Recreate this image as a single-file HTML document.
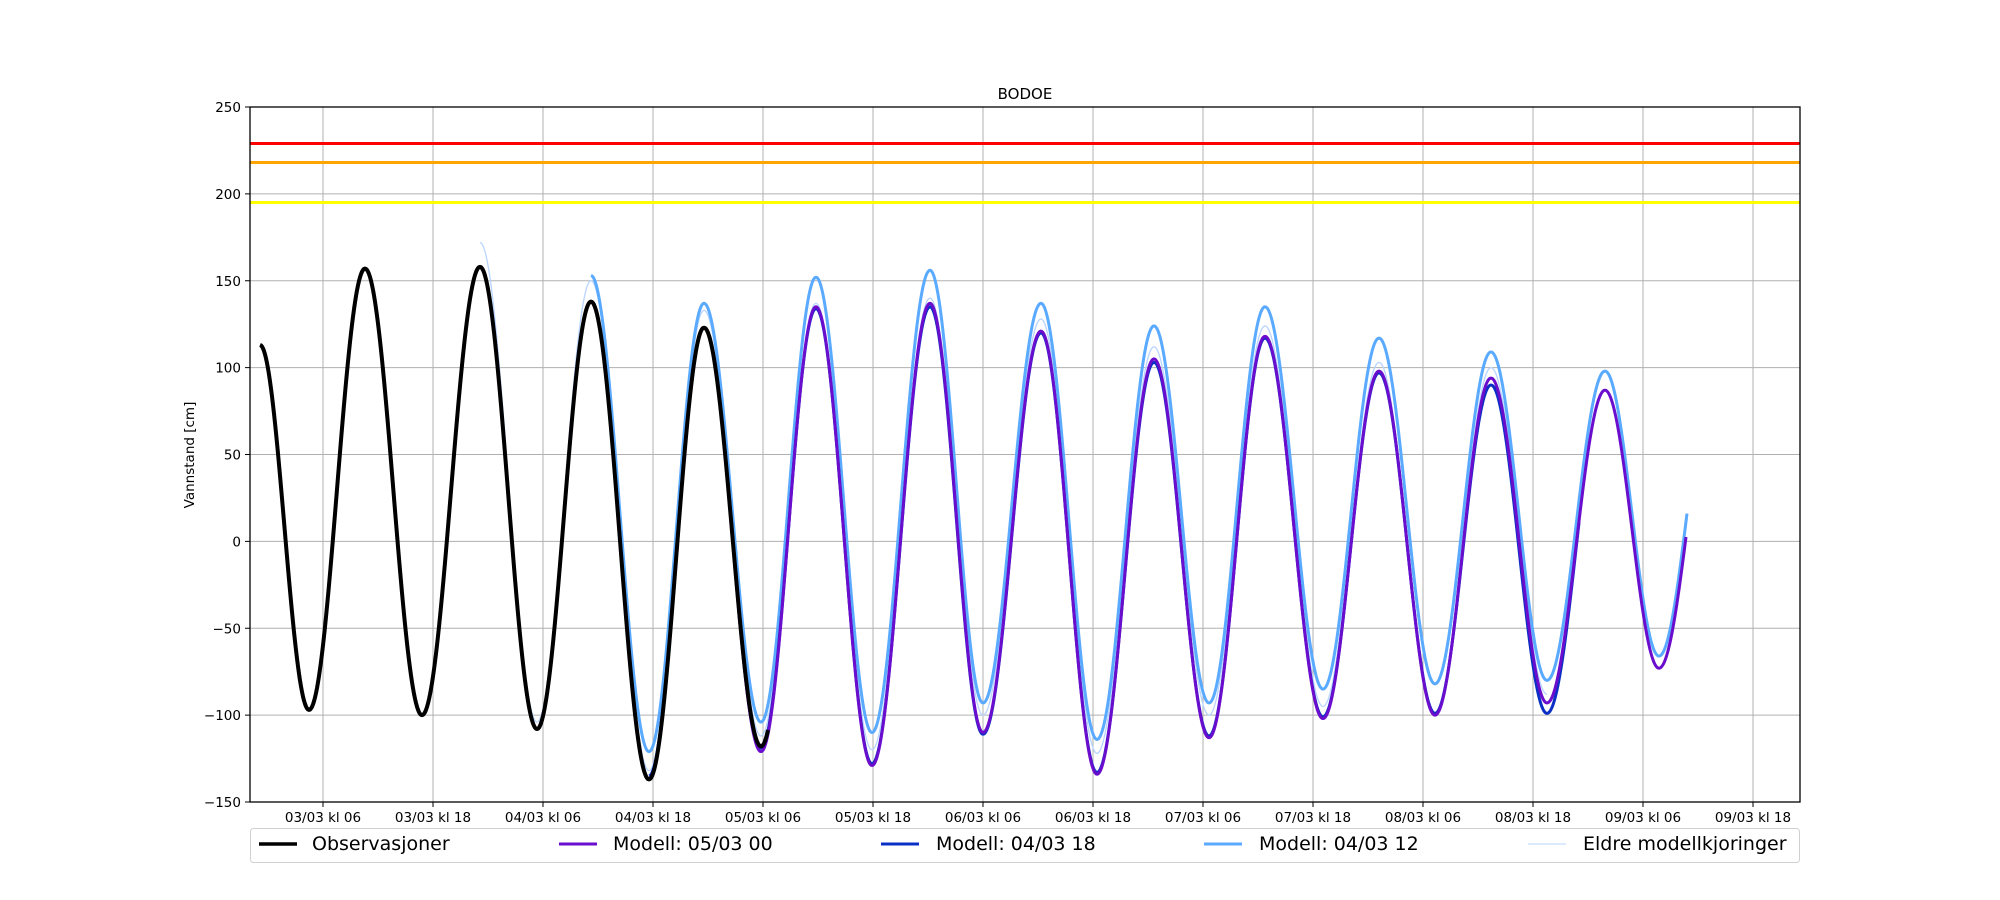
<!DOCTYPE html>
<html><head><meta charset="utf-8"><style>
html,body{margin:0;padding:0;background:#fff;}
svg{display:block;font-family:"DejaVu Sans","Liberation Sans",sans-serif;}
</style></head><body>
<svg id="s" width="2000" height="900" viewBox="0 0 2000 900" xmlns="http://www.w3.org/2000/svg">
<defs><clipPath id="c"><rect x="250" y="107" width="1550" height="695"/></clipPath></defs>
<rect width="2000" height="900" fill="#fff"/>
<g id="grid" stroke="#b0b0b0" stroke-width="1"></g>
<g clip-path="url(#c)">
<line x1="250" x2="1800" y1="143.5" y2="143.5" stroke="#ff0000" stroke-width="3"/>
<line x1="250" x2="1800" y1="162.5" y2="162.5" stroke="#ffa500" stroke-width="3"/>
<line x1="250" x2="1800" y1="202.5" y2="202.5" stroke="#ffff00" stroke-width="3"/>
<g id="series" fill="none" stroke-linejoin="round"></g>
</g>
<rect x="250" y="107" width="1550" height="695" fill="none" stroke="#000" stroke-width="1.3"/>
<g id="ticks" font-size="13.5" fill="#000"></g>
<text x="1025" y="99" font-size="15" text-anchor="middle">BODOE</text>
<text transform="translate(194,455) rotate(-90)" font-size="13.5" text-anchor="middle">Vannstand [cm]</text>
<rect x="250.5" y="828.5" width="1549" height="34" rx="3" fill="#fff" stroke="#d0d0d0"/>
<g font-size="19" fill="#000">
<line x1="259" x2="297" y1="844" y2="844" stroke="#000" stroke-width="3.5"/><text x="312" y="850">Observasjoner</text>
<line x1="559" x2="597" y1="844" y2="844" stroke="#6a0dcc" stroke-width="3"/><text x="613" y="850">Modell: 05/03 00</text>
<line x1="881" x2="919" y1="844" y2="844" stroke="#0a2fc4" stroke-width="3"/><text x="936" y="850">Modell: 04/03 18</text>
<line x1="1204" x2="1242" y1="844" y2="844" stroke="#5aaaff" stroke-width="3"/><text x="1259" y="850">Modell: 04/03 12</text>
<line x1="1528" x2="1566" y1="844" y2="844" stroke="#b8d4ff" stroke-width="1"/><text x="1583" y="850">Eldre modellkjoringer</text>
</g>
</svg>
<script>
var NS="http://www.w3.org/2000/svg";
function Y(v){return 107+(250-v)*1.7375;}
var g=document.getElementById('grid'),t=document.getElementById('ticks');
function el(p,tag,a,txt){var e=document.createElementNS(NS,tag);for(var k in a)e.setAttribute(k,a[k]);if(txt)e.textContent=txt;p.appendChild(e);return e;}
for(var v=-150;v<=250;v+=50){var y=Y(v);if(v>-150&&v<250)el(g,'line',{x1:250,x2:1800,y1:y,y2:y});
el(t,'line',{x1:245,x2:250,y1:y,y2:y,stroke:'#000'});el(t,'text',{x:241,y:y+5,'text-anchor':'end'},String(v).replace('-','\u2212'));}
var labs=['03/03 kl 06','03/03 kl 18','04/03 kl 06','04/03 kl 18','05/03 kl 06','05/03 kl 18','06/03 kl 06','06/03 kl 18','07/03 kl 06','07/03 kl 18','08/03 kl 06','08/03 kl 18','09/03 kl 06','09/03 kl 18'];
for(var i=0;i<14;i++){var x=323+i*110;el(g,'line',{x1:x,x2:x,y1:107,y2:802});el(t,'line',{x1:x,x2:x,y1:802,y2:807,stroke:'#000'});el(t,'text',{x:x,y:822,'text-anchor':'middle'},labs[i]);}
function path(pts,end,col,w){var d='';for(var i=0;i<pts.length-1;i++){var a=pts[i],b=pts[i+1];for(var x=a[0];x<=b[0];x+=1){if(end&&x>end)break;var f=(x-a[0])/(b[0]-a[0]);var v=a[1]+(b[1]-a[1])*(1-Math.cos(Math.PI*f))/2;d+=(d?'L':'M')+x.toFixed(1)+' '+Y(v).toFixed(1);}}
el(document.getElementById('series'),'path',{d:d,stroke:col,'stroke-width':w});}
var light=[[591,153],[649,-121],[704,137],[761,-104],[816,152],[872,-110],[930,156],[983,-93],[1041,137],[1097,-114],[1154,124],[1209,-93],[1265,135],[1323,-85],[1379,117],[1435,-82],[1491,109],[1547,-80],[1605,98],[1659,-66],[1715,98]];
var purple=[[704,123],[761,-121],[816,135],[872,-129],[930,137],[983,-110],[1041,121],[1097,-134],[1154,105],[1209,-113],[1265,118],[1323,-102],[1379,98],[1435,-100],[1491,94],[1547,-93],[1605,87],[1659,-73],[1715,87]];
var dblue=[[649,-135],[704,123],[761,-119],[816,134],[872,-128],[930,135],[983,-111],[1041,120],[1097,-133],[1154,103],[1209,-112],[1265,117],[1323,-101],[1379,97],[1435,-99],[1491,90],[1547,-99],[1605,90]];
var older=[[480,172],[537,-104],[591,150],[649,-132],[704,133],[761,-112],[816,137],[872,-120],[930,140],[983,-100],[1041,128],[1097,-122],[1154,112],[1209,-100],[1265,124],[1323,-95],[1379,103],[1435,-100],[1491,100],[1547,-88]];
var obs=[[260,113],[309,-97],[365,157],[422,-100],[480,158],[537,-108],[591,138],[649,-137],[704,123],[761,-118],[817,130]];
path(older,1560,'#b8d4ff',1.3);
path(light,1687,'#5aaaff',3);
path(dblue,1579,'#0a2fc4',3);
path(purple,1686,'#6a0dcc',3);
path(obs,768,'#000',4);
</script>
</body></html>
